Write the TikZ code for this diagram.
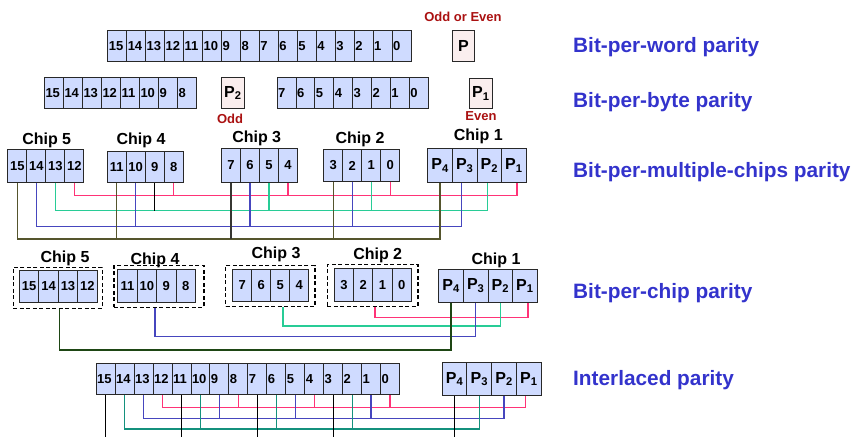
\documentclass[tikz,border=0pt]{standalone}
\usepackage{fontspec}
\setmainfont{Liberation Sans}
\usetikzlibrary{calc}
\definecolor{cellfill}{RGB}{207,219,255}
\definecolor{pfill}{RGB}{250,238,238}
\definecolor{edge}{RGB}{40,40,40}
\definecolor{wpink}{RGB}{255,51,119}
\definecolor{wgreen}{RGB}{40,204,150}
\definecolor{wblue}{RGB}{70,70,190}
\definecolor{wolive}{RGB}{85,85,45}
\definecolor{wdark}{RGB}{55,55,50}
\definecolor{wdgreen}{RGB}{30,70,20}
\definecolor{wteal}{RGB}{20,145,125}
\definecolor{titleblue}{RGB}{51,51,204}
\definecolor{darkred}{RGB}{170,17,17}
\newcommand\digitfont{\fontsize{13}{15}\selectfont\bfseries}
\newcommand\pfont{\fontsize{16}{18}\selectfont\bfseries}
\newcommand\chipfont{\fontsize{16}{18}\selectfont\bfseries}
\newcommand\notefont{\fontsize{13}{15}\selectfont\bfseries}
\newcommand\titlefont{\fontsize{20.8}{24}\selectfont\bfseries}
\begin{document}
\begin{tikzpicture}[x=1pt,y=-1pt,
  cellL/.style={draw=edge, line width=1pt, fill=cellfill, anchor=north west, inner xsep=1pt, inner ysep=0pt, align=left, font=\digitfont, minimum height=31pt},
  cellC/.style={draw=edge, line width=1pt, fill=cellfill, anchor=north west, inner sep=0pt, font=\digitfont},
  pcell/.style={cellC, font=\pfont},
  pbox/.style={draw=edge, line width=1pt, fill=pfill, anchor=north west, inner sep=0pt, font=\pfont},
  dbox/.style={draw=black, line width=1.2pt, dash pattern=on 4pt off 2.5pt, anchor=north west, inner sep=0pt},
  chiplabel/.style={font=\chipfont},
  note/.style={font=\notefont, text=darkred},
  title/.style={font=\titlefont, text=titleblue, anchor=base west, inner sep=0pt},
  wire/.style={line width=1.3pt}]
\useasboundingbox (0,0) rectangle (861,436);

% ---------- Row 1: bit-per-word ----------
\foreach \i in {0,...,15}{
  \pgfmathtruncatemacro\bitno{15-\i}
  \node[cellL, text width=16.96pt] (w\bitno) at ({107.3+\i*18.96},30) {\bitno};
}
\node[pbox, minimum width=22.3pt, minimum height=31pt] (wP) at (451.7,30) {P};
\node[note] (oddeven) at (463,17) {Odd or Even};
\node[title] (t1) at (573,52.3) {Bit-per-word parity};

% ---------- Row 2: bit-per-byte ----------
\foreach \i in {0,...,7}{
  \pgfmathtruncatemacro\bitno{15-\i}
  \node[cellL, text width=17pt] (b\bitno) at ({44+\i*19},77) {\bitno};
  \pgfmathtruncatemacro\bitlo{7-\i}
  \node[cellL, text width=16.875pt] (b\bitlo) at ({276.7+\i*18.875},77) {\bitlo};
}
\node[pbox, minimum width=23.3pt, minimum height=31pt] (bP2) at (220.7,77) {P\textsubscript{2}};
\node[pbox, minimum width=22.7pt, minimum height=30.3pt] (bP1) at (469,77.7) {P\textsubscript{1}};
\node[note] (odd) at (230,118.5) {Odd};
\node[note] (even) at (481,116) {Even};
\node[title] (t2) at (573,107.5) {Bit-per-byte parity};

% ---------- Row 3: bit-per-multiple-chips ----------
\foreach \ch/\x/\y/\h in {5/7.3/149.3/32.4, 4/106.7/151.2/31, 3/221/148.3/33.4, 2/323.3/149.3/31.4}{
  \foreach \k in {0,...,3}{
    \pgfmathtruncatemacro\bitno{4*\ch-5-\k}
    \node[cellC, minimum width=19pt, minimum height=\h pt] (m\bitno) at ({\x+\k*19},\y) {\bitno};
  }
}
\foreach \k in {0,...,3}{
  \pgfmathtruncatemacro\pno{4-\k}
  \node[pcell, minimum width=24.6pt, minimum height=33.4pt] (mP\pno) at ({427.3+\k*24.6},148.3) {P\textsubscript{\pno}};
}
\node[chiplabel] (l35) at (46.7,140.7) {Chip 5};
\node[chiplabel] (l34) at (141,140.7) {Chip 4};
\node[chiplabel] (l33) at (256.7,138.3) {Chip 3};
\node[chiplabel] (l32) at (360,139) {Chip 2};
\node[chiplabel] (l31) at (478.3,136) {Chip 1};
\node[title] (t3) at (573,177.3) {Bit-per-multiple-chips parity};

\coordinate (y3a) at (0,195.7);
\coordinate (y3b) at (0,210.7);
\coordinate (y3c) at (0,226.7);
\coordinate (y3d) at (0,239);
\draw[wire,wpink] (m12.south) |- ([xshift=3pt]mP1.south |- y3a) -- ([xshift=3pt]mP1.south);
\foreach \n in {m8,m4,m0} \draw[wire,wpink] (\n.south) -- (\n.south |- y3a);
\draw[wire,wgreen] (m13.south) |- ([xshift=-2pt]mP2.south |- y3b) -- ([xshift=-2pt]mP2.south);
\foreach \n in {m5,m1} \draw[wire,wgreen] (\n.south) -- (\n.south |- y3b);
\draw[wire,black] (m9.south) -- (m9.south |- y3b);
\draw[wire,wblue] (m14.south) |- ([xshift=-3pt]mP3.south |- y3c) -- ([xshift=-3pt]mP3.south);
\foreach \n in {m10,m6,m2} \draw[wire,wblue] (\n.south) -- (\n.south |- y3c);
\draw[wire,wolive] (m15.south) |- (mP4.south |- y3d) -- (mP4.south);
\foreach \n in {m11,m3} \draw[wire,wolive] (\n.south) -- (\n.south |- y3d);
\draw[wire,wdark] (m7.south) -- (m7.south |- y3d);

% ---------- Row 4: bit-per-chip ----------
\node[dbox, minimum width=89pt, minimum height=41pt] (d5) at (12.7,266.7) {};
\node[dbox, minimum width=90pt, minimum height=41.7pt] (d4) at (113.3,265) {};
\node[dbox, minimum width=89.3pt, minimum height=40.7pt] (d3) at (225,265) {};
\node[dbox, minimum width=90.6pt, minimum height=41.7pt] (d2) at (326.7,264) {};
\foreach \ch/\x/\w/\y/\h in {5/19/19.4/270/31.7, 4/117.3/19.4/269/33.3, 3/232.3/19/269/32, 2/334/19.2/268.3/32.7}{
  \foreach \k in {0,...,3}{
    \pgfmathtruncatemacro\bitno{4*\ch-5-\k}
    \node[cellC, minimum width=\w pt, minimum height=\h pt] (c\bitno) at ({\x+\k*\w},\y) {\bitno};
  }
}
\foreach \k in {0,...,3}{
  \pgfmathtruncatemacro\pno{4-\k}
  \node[pcell, minimum width=24.6pt, minimum height=32.7pt] (cP\pno) at ({438.3+\k*24.6},269) {P\textsubscript{\pno}};
}
\node[chiplabel] (l45) at (65,258.3) {Chip 5};
\node[chiplabel] (l44) at (155,260) {Chip 4};
\node[chiplabel] (l43) at (276,254) {Chip 3};
\node[chiplabel] (l42) at (377.7,255) {Chip 2};
\node[chiplabel] (l41) at (496,260) {Chip 1};
\node[title] (t4) at (573,298.3) {Bit-per-chip parity};

\coordinate (y4a) at (0,317.7);
\coordinate (y4b) at (0,326);
\coordinate (y4c) at (0,336.7);
\coordinate (y4d) at (0,350);
\draw[wire,wpink] ([xshift=2.3pt]d2.south) |- ([xshift=3pt]cP1.south |- y4a) -- ([xshift=3pt]cP1.south);
\draw[wire,wgreen] ([xshift=12.6pt]d3.south) |- (cP2.south |- y4b) -- (cP2.south);
\draw[wire,wblue] ([xshift=-4pt]d4.south) |- (cP3.south |- y4c) -- (cP3.south);
\draw[wire,wdgreen] ([xshift=1.8pt]d5.south) |- (cP4.south |- y4d) -- (cP4.south);

% ---------- Row 5: interlaced ----------
\foreach \i in {0,...,15}{
  \pgfmathtruncatemacro\bitno{15-\i}
  \node[cellL, text width=16.96pt] (i\bitno) at ({95.7+\i*18.96},363.3) {\bitno};
}
\foreach \k in {0,...,3}{
  \pgfmathtruncatemacro\pno{4-\k}
  \node[pcell, minimum width=24.75pt, minimum height=33.3pt] (iP\pno) at ({441.7+\k*24.75},361.7) {P\textsubscript{\pno}};
}
\node[title] (t5) at (573,385) {Interlaced parity};

\coordinate (y5a) at (0,407.3);
\coordinate (y5b) at (0,418.3);
\coordinate (y5c) at (0,429);
\coordinate (y5d) at (0,437);
\draw[wire,wpink] (i12.south) |- ([xshift=-3pt]iP1.south |- y5a) -- ([xshift=-3pt]iP1.south);
\foreach \n in {i8,i4,i0} \draw[wire,wpink] (\n.south) -- (\n.south |- y5a);
\draw[wire,wblue] (i13.south) |- (iP2.south |- y5b) -- (iP2.south);
\foreach \n in {i9,i5,i1} \draw[wire,wblue] (\n.south) -- (\n.south |- y5b);
\draw[wire,wteal] (i14.south) |- (iP3.south |- y5c) -- (iP3.south);
\foreach \n in {i10,i6,i2} \draw[wire,wteal] (\n.south) -- (\n.south |- y5c);
\foreach \n in {i15,i11,i7,i3,iP4} \draw[wire,black] (\n.south) -- (\n.south |- y5d);
\end{tikzpicture}
\end{document}
